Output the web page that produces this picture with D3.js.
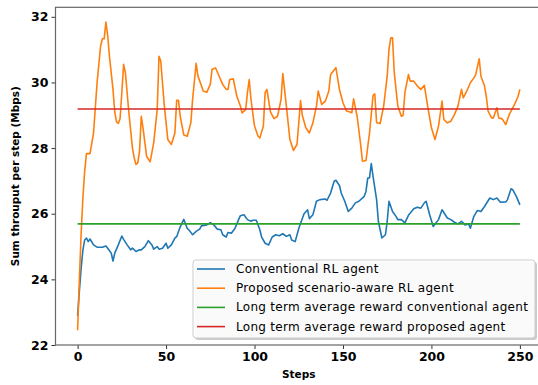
<!DOCTYPE html>
<html>
<head>
<meta charset="utf-8">
<script src="https://cdn.jsdelivr.net/npm/d3@7"></script>
<style>
body { margin: 0; background: white; }
svg { display: block; font-family: "DejaVu Sans", sans-serif; }
</style>
</head>
<body>
<div></div>
<script>
const WIDTH = 538;
const HEIGHT = 385;
// readings: [step, value]
const conventional = [
    [0, 22.89], [1, 23.65], [2, 24.35], [3, 24.9], [4, 25.2], [5, 25.26], [6, 25.15], [7, 25.23],
    [9, 25.05], [11, 24.98], [14, 24.98], [16, 25.02], [17, 24.95], [19, 24.8], [20, 24.56], [21, 24.8],
    [23, 25.05], [25, 25.32], [26, 25.22], [28, 25.05], [30, 24.9], [31, 24.95], [33, 24.85], [35, 24.9],
    [36, 24.9], [38, 25.0], [40, 25.18], [42, 25.05], [43, 24.92], [45, 25.0], [46, 24.92], [48, 24.95],
    [50, 25.1], [51, 24.95], [53, 25.05], [55, 25.26], [56, 25.3], [58, 25.6], [60, 25.83], [62, 25.55],
    [63, 25.5], [65, 25.36], [67, 25.46], [69, 25.53], [70, 25.63], [73, 25.66], [75, 25.73], [77, 25.66],
    [79, 25.53], [81, 25.51], [82, 25.36], [84, 25.29], [85, 25.43], [87, 25.41], [89, 25.56], [91, 25.82],
    [92, 25.94], [94, 25.97], [96, 25.82], [98, 25.77], [99, 25.8], [101, 25.8], [103, 25.51], [104, 25.29],
    [106, 25.1], [108, 25.05], [110, 25.29], [112, 25.36], [114, 25.33], [116, 25.39], [118, 25.31], [120, 25.36],
    [121, 25.2], [123, 25.15], [125, 25.55], [126, 25.7], [128, 26.0], [130, 26.12], [131, 25.85], [133, 25.97],
    [135, 26.38], [137, 26.43], [140, 26.45], [141, 26.41], [143, 26.63], [145, 26.99], [146, 27.02], [148, 26.86],
    [149, 26.63], [151, 26.38], [153, 26.07], [155, 26.17], [157, 26.33], [159, 26.38], [162, 26.53], [163, 26.68],
    [164, 27.09], [165, 27.09], [166, 27.53], [167, 27.14], [169, 26.43], [170, 25.77], [172, 25.26], [174, 25.36],
    [175, 25.77], [176, 26.38], [178, 26.07], [180, 25.92], [181, 25.82], [183, 25.82], [185, 25.72], [187, 25.95],
    [190, 26.15], [192, 26.2], [194, 26.17], [196, 26.33], [197, 26.38], [199, 25.97], [201, 25.61], [204, 25.82],
    [206, 26.12], [209, 25.87], [211, 25.82], [213, 25.74], [215, 25.69], [217, 25.77], [219, 25.66], [221, 25.69],
    [222, 25.56], [224, 25.92], [226, 26.1], [228, 26.07], [230, 26.22], [233, 26.48], [235, 26.43], [237, 26.48],
    [239, 26.35], [242, 26.36], [243, 26.43], [245, 26.76], [246, 26.73], [248, 26.53], [250, 26.27]
];
const proposed = [
    [0, 22.45], [1, 24.0], [2, 25.4], [3, 26.5], [4, 27.3], [5, 27.83], [7, 27.83], [9, 28.46],
    [11, 29.99], [13, 31.11], [14, 31.33], [15, 31.33], [16, 31.84], [17, 31.43], [18, 30.8], [20, 29.79],
    [21, 29.1], [22, 28.8], [23, 28.75], [24, 28.9], [25, 29.7], [26, 30.55], [27, 30.3], [29, 29.07],
    [31, 28.0], [32, 27.7], [33, 27.5], [34, 27.55], [35, 27.9], [36, 28.97], [37, 28.6], [39, 27.75],
    [41, 27.58], [43, 28.16], [45, 29.18], [46, 30.8], [47, 30.65], [49, 29.3], [51, 28.26], [53, 28.11],
    [55, 28.46], [56, 29.46], [57, 29.46], [58, 28.97], [60, 28.4], [62, 28.36], [64, 28.77], [65, 29.48],
    [67, 30.58], [68, 30.2], [71, 29.74], [73, 29.7], [75, 29.94], [76, 30.4], [78, 30.44], [80, 30.19],
    [82, 29.94], [84, 29.79], [85, 29.79], [86, 30.09], [88, 30.11], [90, 29.58], [92, 29.28], [93, 29.07],
    [95, 29.18], [96, 29.69], [97, 30.09], [98, 29.48], [100, 28.67], [102, 28.36], [103, 28.31], [105, 28.67],
    [106, 29.69], [107, 29.79], [109, 29.1], [111, 28.9], [113, 28.97], [115, 29.48], [116, 30.27], [118, 29.28],
    [120, 28.26], [122, 27.93], [124, 28.11], [125, 28.75], [126, 29.45], [127, 29.0], [129, 28.62], [131, 28.46],
    [133, 28.77], [135, 29.28], [136, 29.74], [138, 29.33], [140, 29.43], [142, 29.74], [143, 30.24], [146, 30.45],
    [148, 29.79], [150, 29.38], [152, 29.13], [154, 29.1], [155, 29.08], [156, 29.5], [158, 28.97], [160, 28.1],
    [161, 27.6], [163, 27.62], [165, 28.46], [167, 29.6], [168, 29.65], [169, 28.77], [171, 28.75], [173, 29.28],
    [175, 30.19], [176, 31.0], [177, 31.36], [178, 31.36], [179, 30.29], [181, 29.28], [183, 28.97], [184, 29.0],
    [185, 29.69], [187, 30.24], [188, 30.04], [190, 30.04], [192, 29.89], [194, 29.79], [196, 29.91], [198, 29.23],
    [200, 28.62], [202, 28.26], [204, 28.67], [206, 29.43], [207, 28.87], [209, 28.77], [211, 28.82], [213, 29.02],
    [215, 29.28], [217, 29.79], [218, 29.53], [220, 29.74], [222, 29.99], [224, 30.14], [225, 30.24], [227, 30.72],
    [228, 30.19], [230, 29.89], [231, 29.58], [232, 29.13], [234, 28.92], [235, 28.92], [237, 29.23], [238, 28.92],
    [240, 28.89], [242, 28.72], [244, 29.02], [245, 29.13], [247, 29.33], [249, 29.58], [250, 29.79]
];
const avgConventional = 25.69;
const avgProposed = 29.19;
const xTicks = [0, 50, 100, 150, 200, 250];
const yTicks = [22, 24, 26, 28, 30, 32];
const legendLabels = [
    'Conventional RL agent',
    'Proposed scenario-aware RL agent',
    'Long term average reward conventional agent',
    'Long term average reward proposed agent'
];
const colors = ['#1f77b4', '#ff7f0e', '#2ca02c', '#d62728'];

// plot box
const plotLeft = 55.5, plotTop = 7.3, plotBottom = 345, plotRight = 542;
const x = d3.scaleLinear().domain([-12.5, 262.5]).range([plotLeft, plotRight]);
const y = d3.scaleLinear().domain([22, 32.29]).range([plotBottom, plotTop]);

const svg = d3.select('div').append('svg')
    .attr('width', WIDTH)
    .attr('height', HEIGHT);

const line = d3.line()
    .x(d => x(d[0]))
    .y(d => y(d[1]));

// series
const plot = svg.append('g');
plot.append('path')
    .datum(conventional)
    .attr('d', line)
    .attr('fill', 'none')
    .attr('stroke', colors[0])
    .attr('stroke-width', 1.6)
    .attr('stroke-linejoin', 'round');
plot.append('path')
    .datum(proposed)
    .attr('d', line)
    .attr('fill', 'none')
    .attr('stroke', colors[1])
    .attr('stroke-width', 1.6)
    .attr('stroke-linejoin', 'round');
// average lines
[avgConventional, avgProposed].forEach((v, i) => {
    plot.append('path')
        .datum([[0, v], [250, v]])
        .attr('d', line)
        .attr('stroke', colors[i + 2])
        .attr('stroke-width', 1.6);
});

// axes
const xAxis = svg.append('g')
    .attr('transform', 'translate(0,' + plotBottom + ')')
    .call(d3.axisBottom(x).tickValues(xTicks).tickSize(4).tickPadding(3));
const yAxis = svg.append('g')
    .attr('transform', 'translate(' + plotLeft + ',0)')
    .call(d3.axisLeft(y).tickValues(yTicks).tickFormat(d3.format('d')).tickSize(4).tickPadding(3));
[xAxis, yAxis].forEach(a => {
    a.select('.domain').remove();
    a.selectAll('line').attr('stroke', '#333').attr('stroke-width', 1);
    a.selectAll('text')
        .attr('fill', '#000')
        .style('font-size', '12.5px')
        .style('font-weight', 'bold')
        .style('font-family', '"DejaVu Sans", sans-serif');
});
// frame
svg.append('rect')
    .attr('x', plotLeft)
    .attr('y', plotTop)
    .attr('width', plotRight - plotLeft)
    .attr('height', plotBottom - plotTop)
    .attr('fill', 'none')
    .attr('stroke', '#666')
    .attr('stroke-width', 1.2);

// axis labels
svg.append('text')
    .attr('x', (plotLeft + plotRight) / 2)
    .attr('y', 378)
    .attr('text-anchor', 'middle')
    .style('font-size', '10.5px')
    .style('font-weight', 'bold')
    .text('Steps');
svg.append('text')
    .attr('transform', 'translate(19,' + (plotTop + plotBottom) / 2 + ') rotate(-90)')
    .attr('text-anchor', 'middle')
    .style('font-size', '10.5px')
    .style('font-weight', 'bold')
    .text('Sum throuput per step (Mbps)');

// legend
const legend = svg.append('g').attr('transform', 'translate(193,260)');
legend.append('rect')
    .attr('x', 2).attr('y', 2)
    .attr('width', 342).attr('height', 78)
    .attr('rx', 3)
    .attr('fill', '#999')
    .attr('opacity', 0.5);
legend.append('rect')
    .attr('width', 342).attr('height', 78)
    .attr('rx', 3)
    .attr('fill', 'white')
    .attr('fill-opacity', 0.9)
    .attr('stroke', '#ccc');
legendLabels.forEach((t, i) => {
    const ly = 9 + i * 19.2;
    legend.append('line')
        .attr('x1', 4).attr('x2', 32)
        .attr('y1', ly).attr('y2', ly)
        .attr('stroke', colors[i])
        .attr('stroke-width', 1.6);
    legend.append('text')
        .attr('x', 43)
        .attr('y', ly + 4)
        .style('font-size', '12px')
        .style('letter-spacing', '0.3px')
        .text(t);
});
</script>
</body>
</html>
